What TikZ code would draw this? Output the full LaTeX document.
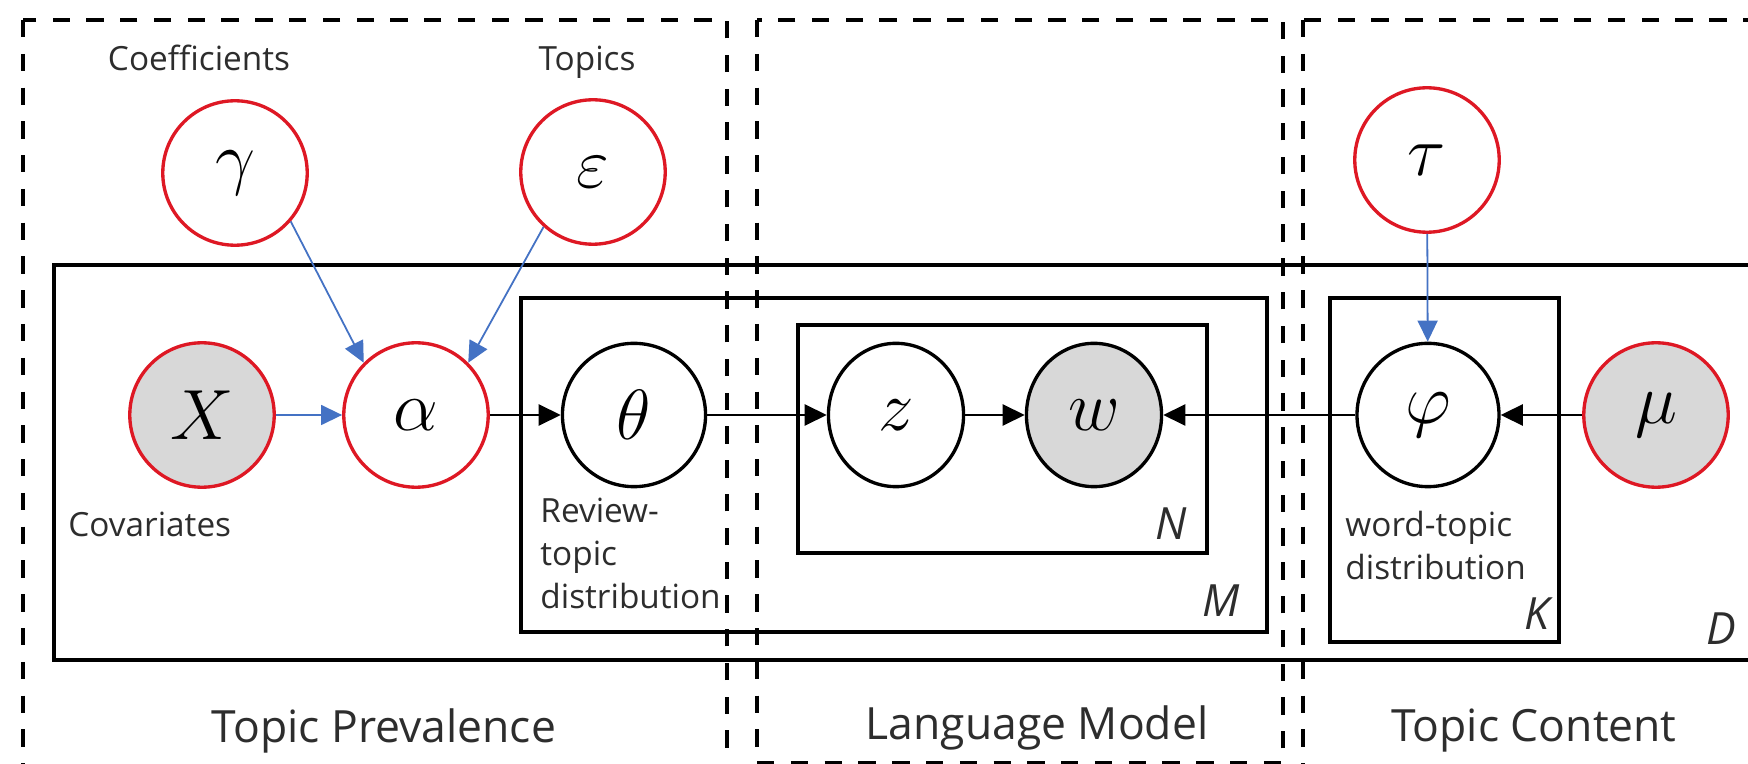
\RequirePackage{fix-cm}
\documentclass[tikz,border=0pt]{standalone}
\usepackage{fontspec}
\setmainfont{Open Sans}
\usetikzlibrary{shapes.geometric,arrows.meta}
\definecolor{varred}{RGB}{222,24,36}
\definecolor{obsgrey}{RGB}{216,216,216}
\definecolor{linkblue}{RGB}{68,114,196}
\definecolor{inkgrey}{RGB}{45,45,45}
\tikzset{
  hyper/.style={ellipse, draw=varred, line width=1.5pt, inner sep=0pt,
    minimum width=65pt, minimum height=65pt, fill=white,
    font=\fontsize{32}{32}\selectfont},
  latent/.style={ellipse, draw=black, line width=1.5pt, inner sep=0pt,
    minimum width=#1, minimum height=64.5pt, fill=white,
    font=\fontsize{32}{32}\selectfont},
  latent/.default=64pt,
  observed/.style={fill=obsgrey},
  plate/.style={draw=black, line width=1.7pt},
  region/.style={draw=black, line width=1.8pt, dash pattern=on 7.8pt off 7.4pt},
  flow/.style={draw=black, line width=1pt, -{Triangle[length=10pt,width=9.5pt]}},
  bflow/.style={draw=linkblue, line width=0.8pt, -{Triangle[length=9.5pt,width=9pt]}},
  lab/.style={font=\fontsize{15}{19.5}\selectfont, text=inkgrey, inner sep=0pt},
  big/.style={font=\fontsize{20}{24}\selectfont, text=inkgrey, inner sep=0pt},
  platelab/.style={font=\fontsize{20}{24}\selectfont\itshape, text=inkgrey, inner sep=0pt},
}
\begin{document}
\begin{tikzpicture}[x=0.45pt, y=-0.45pt]
\useasboundingbox (0,0) rectangle (1748,764);
\fill[white] (0,0) rectangle (1748,764);
\clip (0,0) rectangle (1748,764);

% plates
\draw[plate] (54,265) rectangle (1780,660);
\draw[plate] (521,298) rectangle (1267,632);
\draw[plate] (798,325) rectangle (1207,553);
\draw[plate] (1330,298) rectangle (1559,642);

% the three model parts
\draw[region] (23,20) rectangle (727,775);
\draw[region] (757,20) rectangle (1283,763);
\draw[region] (1303,20) rectangle (1790,775);

% variables
\node[hyper] (gamma) at (235,173) {$\gamma$};
\node[hyper] (eps) at (593,172) {$\varepsilon$};
\node[hyper] (tau) at (1427,160) {$\tau$};
\node[hyper, observed] (X) at (202,415) {$X$};
\node[hyper] (alpha) at (416,415) {$\alpha$};
\node[latent=64.4pt] (theta) at (634,415) {$\theta$};
\node[latent=60.8pt] (z) at (896,415) {$z$};
\node[latent=60.8pt, observed] (w) at (1094,415) {$w$};
\node[latent=63.9pt] (phi) at (1428,415) {$\varphi$};
\node[hyper, observed] (mu) at (1656,415) {$\mu$};

% dependencies
\draw[bflow] (gamma.-41) -- (alpha.135);
\draw[bflow] (eps.-132) -- (alpha.45);
\draw[bflow] (X) -- (alpha);
\draw[bflow] (tau) -- (phi);
\draw[flow] (alpha) -- (theta);
\draw[flow] (theta) -- (z);
\draw[flow] (z) -- (w);
\draw[flow] (phi) -- (w);
\draw[flow] (mu) -- (phi);

% annotations
\node[lab, anchor=base] (coef) at (199,71) {Coefficients};
\node[lab, anchor=base] (topics) at (587,71) {Topics};
\node[lab, anchor=base west] (cov) at (68,537) {Covariates};
\node[lab, anchor=base west] (rt1) at (540,523) {Review-};
\node[lab, anchor=base west] (rt2) at (540,566) {topic};
\node[lab, anchor=base west] (rt3) at (540,609) {distribution};
\node[lab, anchor=base west] (wt1) at (1345,537) {word-topic};
\node[lab, anchor=base west] (wt2) at (1345,580) {distribution};

% plate sizes
\node[platelab, anchor=base east] (nN) at (1187,540) {N};
\node[platelab, anchor=base east] (nM) at (1240,617) {M};
\node[platelab, anchor=base east] (nK) at (1550,630) {K};
\node[platelab, anchor=base east] (nD) at (1737,645) {D};

% part titles
\node[big, anchor=base] (tp) at (384,743) {Topic Prevalence};
\node[big, anchor=base] (lm) at (1037,740) {Language Model};
\node[big, anchor=base] (tc) at (1534,742) {Topic Content};
\end{tikzpicture}
\end{document}
